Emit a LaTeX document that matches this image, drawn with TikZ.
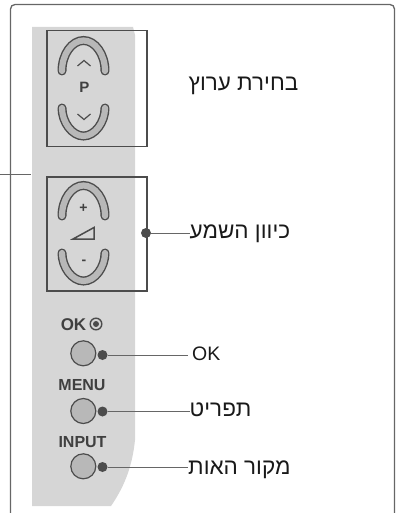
\documentclass[tikz,border=0pt]{standalone}
\usepackage{fontspec}
\setmainfont{Liberation Sans}
\newfontfamily\hebfont[Script=Hebrew]{Liberation Sans}
\TeXXeTstate=1
\definecolor{panelgrey}{gray}{0.84}
\definecolor{btngrey}{gray}{0.72}
\definecolor{inkgrey}{gray}{0.3}
\definecolor{textgrey}{gray}{0.25}
\tikzset{
  frameline/.style={draw=black!60,line width=1.3pt},
  keybox/.style={draw=inkgrey,line width=1.3pt},
  arcdark/.style={draw=inkgrey,line width=9pt,line cap=round},
  arcfill/.style={draw=btngrey,line width=6.2pt,line cap=round},
  chev/.style={draw=inkgrey,line width=1.2pt},
  btn/.style={circle,draw=inkgrey,fill=btngrey,line width=1.2pt,minimum size=25pt,inner sep=0pt},
  dotnode/.style={circle,fill=inkgrey,minimum size=10pt,inner sep=0pt},
  leader/.style={draw=black!60,line width=1pt},
  keylabel/.style={font=\fontsize{16}{17}\selectfont\bfseries,text=textgrey,inner sep=0pt},
  heblabel/.style={font=\hebfont\fontsize{22.5}{24}\selectfont,text=black!90,inner sep=0pt,anchor=base west},
}
\newcommand{\heb}[1]{\beginR #1\endR}
\begin{document}
\begin{tikzpicture}[x=1pt,y=-1pt]
\useasboundingbox (0,0) rectangle (397,513);
% panel
\fill[panelgrey] (32,27) -- (133,27) -- (135,35) -- (135,440) .. controls (132,470) and (122,490) .. (111,506) -- (32,506) -- cycle;
% frame
\draw[frameline,rounded corners=4.5pt] (10.5,514) -- (10.5,4.5) -- (394.5,4.5) -- (394.5,514);
% boxes
\node[keybox,minimum width=100pt,minimum height=115.5pt,inner sep=0pt] (pbox) at (97,88.5) {};
\node[keybox,minimum width=100pt,minimum height=114pt,inner sep=0pt] (volbox) at (97,234) {};
% rockers
\foreach \dy in {0,145}{
  \foreach \sty in {arcdark,arcfill}{
    \draw[\sty] (62,71+\dy) .. controls (62,54+\dy) and (72,40.5+\dy) .. (83.5,40.5+\dy) .. controls (95,40.5+\dy) and (105,54+\dy) .. (105,71+\dy);
    \draw[\sty] (62,108+\dy) .. controls (62,122+\dy) and (72,136+\dy) .. (83.5,136+\dy) .. controls (95,136+\dy) and (105,122+\dy) .. (105,108+\dy);
  }
}
\draw[chev] (77.5,66) -- (84,60.5) -- (90.5,66);
\draw[chev] (77.5,114) -- (84,119.5) -- (90.5,114);
\node[keylabel,font=\fontsize{15}{16}\selectfont\bfseries] (plabel) at (84.5,87) {P};
\node[keylabel,font=\fontsize{14}{15}\selectfont\bfseries] (pluslabel) at (83.5,208.5) {+};
\node[keylabel,font=\fontsize{14}{15}\selectfont\bfseries] (minuslabel) at (84,262.5) {-};
\draw[inkgrey,line width=1.5pt] (73,239) -- (94,227.5) -- (94,239) -- cycle;
% left lead
\coordinate (leadfree) at (0,174);
\coordinate (leadend) at (31,174);
\draw[leader] (leadfree) -- (leadend);
% key labels
\node[keylabel,font=\fontsize{17}{18}\selectfont\bfseries] (oklabel) at (73.5,324.5) {OK};
\draw[inkgrey,line width=1.4pt] (96,324) circle[radius=5.8pt];
\fill[inkgrey] (96,324) circle[radius=3pt];
\node[keylabel] (menulabel) at (82,385) {MENU};
\node[keylabel] (inputlabel) at (82.5,442) {INPUT};
% buttons
\node[btn] (okbtn) at (83.3,353.3) {};
\node[btn] (menubtn) at (83.3,411) {};
\node[btn] (inputbtn) at (83.3,466.3) {};
% dots
\node[dotnode] (voldot) at (146,233) {};
\node[dotnode] (okdot) at (102.5,355) {};
\node[dotnode] (menudot) at (102.5,411.5) {};
\node[dotnode] (inputdot) at (102.5,467) {};
% labels
\node[heblabel] (chan) at (188.5,90.5) {\heb{בחירת ערוץ}};
\node[heblabel] (vol) at (189.5,238) {\heb{כיוון השמע}};
\node[heblabel,font=\fontsize{19.5}{21}\selectfont] (oktext) at (192,360) {OK};
\node[heblabel] (menutext) at (189.5,416) {\heb{תפריט}};
\node[heblabel] (inputtext) at (188,474) {\heb{מקור האות}};
% connectors
\coordinate (okend) at (188,355);
\draw[leader] (voldot) -- (vol.west |- voldot);
\draw[leader] (okdot) -- (okend);
\draw[leader] (menudot) -- (menutext.west |- menudot);
\draw[leader] (inputdot) -- (inputtext.west |- inputdot);
\end{tikzpicture}
\end{document}
